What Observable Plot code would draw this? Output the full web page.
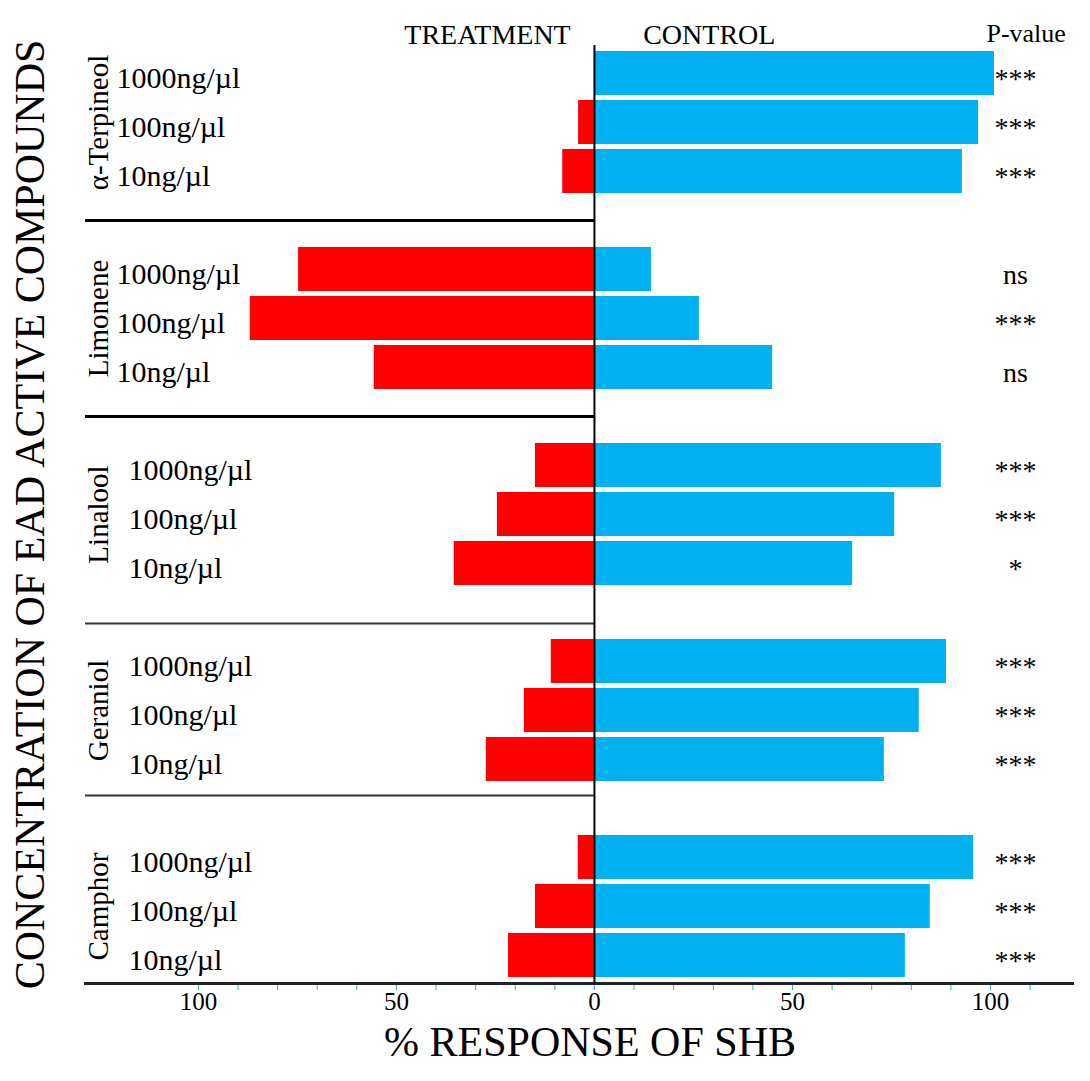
<!DOCTYPE html>
<html><head><meta charset="utf-8">
<script src="https://cdn.jsdelivr.net/npm/d3@7"></script>
<script src="https://cdn.jsdelivr.net/npm/@observablehq/plot@0.6"></script>
<style>body{margin:0;background:#fff;} svg{display:block;}</style>
</head><body><div id="chart"></div>
<script>
// ---- data ----
const compounds = ["α-Terpineol", "Limonene", "Linalool", "Geraniol", "Camphor"];
const concentrations = ["1000ng/µl", "100ng/µl", "10ng/µl"];
const treatment = [
  [0, 4, 8],
  [74.7, 86.9, 55.6],
  [14.9, 24.5, 35.4],
  [10.9, 17.7, 27.3],
  [4.1, 14.9, 21.7]
];
const control = [
  [101, 97, 92.9],
  [14.4, 26.5, 45],
  [87.6, 75.8, 65.2],
  [88.9, 82, 73.2],
  [95.7, 84.8, 78.5]
];
const pValues = [
  ["***", "***", "***"],
  ["ns", "***", "ns"],
  ["***", "***", "*"],
  ["***", "***", "***"],
  ["***", "***", "***"]
];
const majorTicks = [-100, -50, 0, 50, 100];
const minorTicks = [-100, -90, -80, -70, -60, -50, -40, -30, -20, -10, 0, 10, 20, 30, 40, 50, 60, 70, 80, 90, 100, 110];
const headers = ["TREATMENT", "CONTROL", "P-value"];
const xTitle = "% RESPONSE OF SHB";
const yTitle = "CONCENTRATION OF EAD ACTIVE COMPOUNDS";

// ---- derived tables ----
const rows = [];
compounds.forEach((c, i) => concentrations.forEach((k, j) => rows.push({
  compound: c, conc: k, key: c + "|" + k, group: i,
  treat: treatment[i][j], control: control[i][j], p: pValues[i][j]
})));
const yDomain = compounds.flatMap((c, i) => [
  ...concentrations.map(k => c + "|" + k),
  ...(i < compounds.length - 1 ? [c + "|gap"] : [])
]);
const xMin = -128.5, xMax = 120.7;
const font = "'Liberation Serif', 'Times New Roman', Times, serif";

const chart = Plot.plot({
  width: 1090, height: 1081,
  marginTop: 45, marginBottom: 98, marginLeft: 85, marginRight: 18,
  style: {fontFamily: font, background: "#fff", color: "#000"},
  x: {domain: [xMin, xMax], axis: null, label: null},
  y: {domain: yDomain, type: "band", paddingInner: 0.1, paddingOuter: 0, axis: null, label: null},
  marks: [
    Plot.barX(rows, {x1: 0, x2: d => -d.treat, y: "key", fill: "#ff0000"}),
    Plot.barX(rows, {x1: 0, x2: "control", y: "key", fill: "#00b0f0"}),
    Plot.ruleX([0], {stroke: "#000", strokeWidth: 2}),
    Plot.ruleY(compounds.slice(0, 2), {y: d => d + "|gap", x1: xMin, x2: 0, stroke: "#000", strokeWidth: 3}),
    Plot.ruleY(compounds.slice(2, 3), {y: d => d + "|gap", x1: xMin, x2: 0, stroke: "#333", strokeWidth: 2, dy: 11}),
    Plot.ruleY(compounds.slice(3, 4), {y: d => d + "|gap", x1: xMin, x2: 0, stroke: "#333", strokeWidth: 2, dy: -13}),
    Plot.axisX({ticks: minorTicks, tickSize: 7, stroke: "#29abe2", tickFormat: () => "", label: null}),
    Plot.axisX({ticks: majorTicks, tickSize: 0, tickPadding: 9, tickFormat: d => Math.abs(d), fontSize: 25, label: null, fill: "#000"}),
    Plot.frame({anchor: "bottom", stroke: "#222", strokeWidth: 3}),
    // concentration labels (first two groups sit a little further left)
    Plot.text(rows.filter(d => d.group < 2), {y: "key", text: "conc", frameAnchor: "left", dx: 31, dy: 5, textAnchor: "start", fontSize: 30}),
    Plot.text(rows.filter(d => d.group >= 2), {y: "key", text: "conc", frameAnchor: "left", dx: 43, dy: 5, textAnchor: "start", fontSize: 30}),
    // compound labels (rotated)
    Plot.text(compounds, {y: d => d + "|" + concentrations[1], text: d => d, frameAnchor: "left", dx: 13, rotate: -90, textAnchor: "middle", lineAnchor: "middle", fontSize: 29}),
    // p-values
    Plot.text(rows, {y: "key", text: "p", frameAnchor: "right", dx: -57, dy: 6, textAnchor: "middle", fontSize: 28}),
    // headers
    Plot.text([headers[0]], {x: () => -27, frameAnchor: "top", dy: -21, fontSize: 28}),
    Plot.text([headers[1]], {x: () => 29, frameAnchor: "top", dy: -21, fontSize: 28}),
    Plot.text([headers[2]], {x: () => 109, frameAnchor: "top", dy: -22, fontSize: 26}),
    // axis titles
    Plot.text([xTitle], {frameAnchor: "bottom", dx: 11, dy: 59, lineAnchor: "middle", textAnchor: "middle", fontSize: 42}),
    Plot.text([yTitle], {frameAnchor: "left", dx: -55, rotate: -90, textAnchor: "middle", lineAnchor: "middle", fontSize: 42})
  ]
});
document.getElementById("chart").append(chart);
</script>
</body></html>
